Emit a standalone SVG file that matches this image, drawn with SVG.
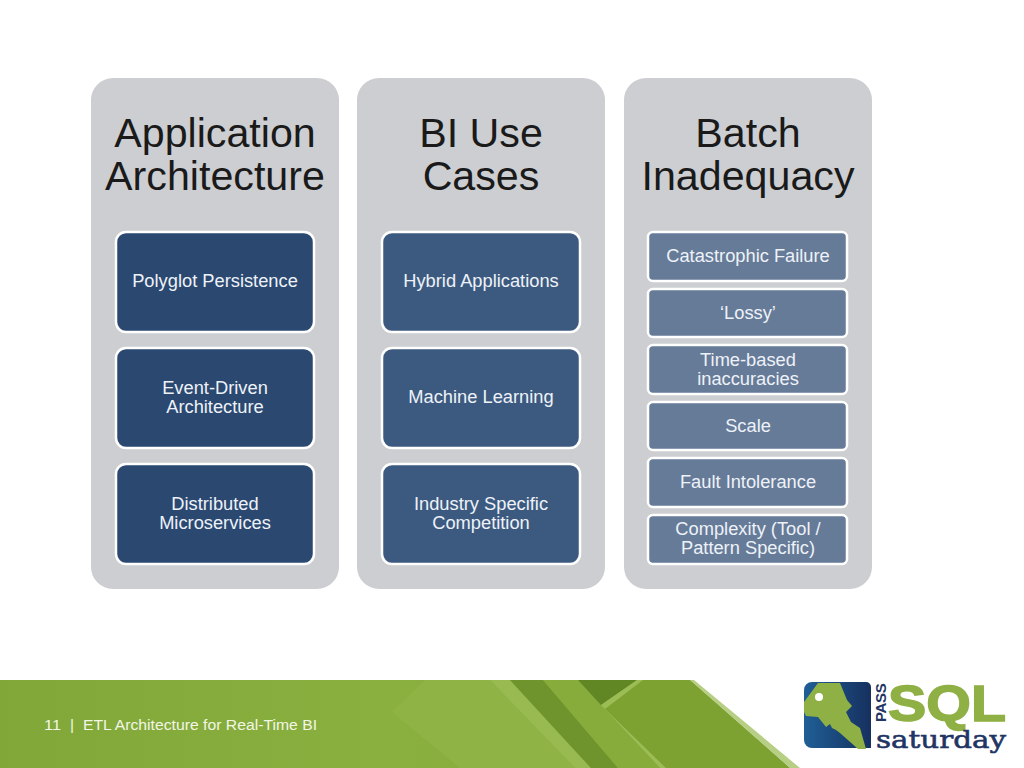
<svg xmlns="http://www.w3.org/2000/svg" width="1024" height="768" viewBox="0 0 1024 768">
<style>
.panel{fill:#cdced1}
.box{stroke:#fff;stroke-width:2.5}
.c1{fill:#2a4870}.c2{fill:#3c5a80}.c3{fill:#667b98}
text{font-family:"Liberation Sans",Arial,sans-serif;text-anchor:middle}
.h{font-size:41.200px;fill:#1a1a1a}
.t{font-size:18.300px;fill:#eef2f8}
.f{font-size:15.500px;fill:#f2f6e6;text-anchor:start}
</style>
<defs>
<linearGradient id="band" x1="0" x2="1" y1="0" y2="0"><stop offset="0" stop-color="#80a737"/><stop offset=".5" stop-color="#8ab040"/><stop offset="1" stop-color="#80a334"/></linearGradient>
<linearGradient id="logoBlue" x1="0" x2="1" y1="0" y2="0"><stop offset="0" stop-color="#1f5f96"/><stop offset="1" stop-color="#16305f"/></linearGradient>
</defs>
<rect width="1024" height="768" fill="#fff"/>
<g id="footer">
<polygon points="0,680 690,680 790,768 0,768" fill="url(#band)"/>
<polygon points="425,680 490,680 575,768 460,768 392,712" fill="#90b346"/>
<polygon points="490,680 510,680 591,768 575,768" fill="#98ba50"/>
<polygon points="510,680 543,680 618,768 591,768" fill="#6f942d"/>
<polygon points="543,680 578,680 601,705 660,768 618,768" fill="#87ac3c"/>
<polygon points="578,680 637,680 601,705" fill="#618624"/>
<polygon points="637,680 690,680 790,768 660,768 604,708" fill="#7da232"/>
<polygon points="637,680 643,680 605,709 601,705" fill="#9cbc55"/>
<polygon points="601,705 605,709 666,768 660,768" fill="#9cbc55"/>
<polygon points="690,680 694,680 800,768 790,768" fill="#b7cf85"/>
<text class="f" x="44" y="730" textLength="17" lengthAdjust="spacingAndGlyphs">11</text>
<text class="f" x="70" y="730">|</text>
<text class="f" x="83" y="730" textLength="234" lengthAdjust="spacingAndGlyphs">ETL Architecture for Real-Time BI</text>
</g>
<g id="logo">
<path d="M812 682H866a5 5 0 0 1 5 5V748H812a8 8 0 0 1-8-8V690a8 8 0 0 1 8-8Z" fill="url(#logoBlue)"/>
<path d="M804 702L818 683H840L847 700L852 706L846 712L851 722L860 728L866 749H858L840 733L836 730L832 728L830 724L826 727L818 717L806 716L804 712Z" fill="#8fb044"/>
<circle cx="819" cy="697" r="4" fill="#fff"/>
<text x="0" y="0" transform="translate(886 722) rotate(-90)" style="font-size:15px;font-weight:bold;fill:#1f3564;text-anchor:start;letter-spacing:-.3px">PASS</text>
<text x="947" y="721" style="font-size:50px;font-weight:bold;fill:#8fb044;stroke:#8fb044;stroke-width:1.500" textLength="118" lengthAdjust="spacingAndGlyphs">SQL</text>
<text x="941" y="748" style="font-family:'DejaVu Serif','Liberation Serif',serif;font-size:25px;fill:#1f3564;stroke:#1f3564;stroke-width:.6" textLength="130" lengthAdjust="spacingAndGlyphs">saturday</text>
</g>
<g id="col1">
<rect class="panel" x="91" y="78" width="248" height="511" rx="22"/>
<text class="h" x="215" y="146.500">Application</text>
<text class="h" x="215" y="189.500">Architecture</text>
</g>
<g id="col2">
<rect class="panel" x="357" y="78" width="248" height="511" rx="22"/>
<text class="h" x="481" y="146.500">BI Use</text>
<text class="h" x="481" y="189.500">Cases</text>
</g>
<g id="col3">
<rect class="panel" x="624" y="78" width="248" height="511" rx="22"/>
<text class="h" x="748" y="146.500">Batch</text>
<text class="h" x="748" y="189.500">Inadequacy</text>
</g>
<g id="connectors"></g>
<g id="n-polyglot"><rect class="box c1" x="116" y="232" width="198" height="100" rx="10"/><text class="t" x="215" y="287">Polyglot Persistence</text></g>
<g id="n-event"><rect class="box c1" x="116" y="348" width="198" height="100" rx="10"/><text class="t" x="215" y="393.500">Event-Driven</text><text class="t" x="215" y="413">Architecture</text></g>
<g id="n-micro"><rect class="box c1" x="116" y="464" width="198" height="100" rx="10"/><text class="t" x="215" y="509.500">Distributed</text><text class="t" x="215" y="529">Microservices</text></g>
<g id="n-hybrid"><rect class="box c2" x="382" y="232" width="198" height="100" rx="10"/><text class="t" x="481" y="287">Hybrid Applications</text></g>
<g id="n-ml"><rect class="box c2" x="382" y="348" width="198" height="100" rx="10"/><text class="t" x="481" y="403">Machine Learning</text></g>
<g id="n-industry"><rect class="box c2" x="382" y="464" width="198" height="100" rx="10"/><text class="t" x="481" y="509.500">Industry Specific</text><text class="t" x="481" y="529">Competition</text></g>
<g id="n-catastrophic"><rect class="box c3" x="648" y="232" width="199" height="49" rx="5"/><text class="t" x="748" y="262">Catastrophic Failure</text></g>
<g id="n-lossy"><rect class="box c3" x="648" y="289" width="199" height="48" rx="5"/><text class="t" x="748" y="319">‘Lossy’</text></g>
<g id="n-time"><rect class="box c3" x="648" y="345" width="199" height="49" rx="5"/><text class="t" x="748" y="366">Time-based</text><text class="t" x="748" y="385">inaccuracies</text></g>
<g id="n-scale"><rect class="box c3" x="648" y="402" width="199" height="48" rx="5"/><text class="t" x="748" y="432">Scale</text></g>
<g id="n-fault"><rect class="box c3" x="648" y="458" width="199" height="49" rx="5"/><text class="t" x="748" y="488">Fault Intolerance</text></g>
<g id="n-complexity"><rect class="box c3" x="648" y="515" width="199" height="49" rx="5"/><text class="t" x="748" y="535">Complexity (Tool /</text><text class="t" x="748" y="554">Pattern Specific)</text></g>
</svg>
